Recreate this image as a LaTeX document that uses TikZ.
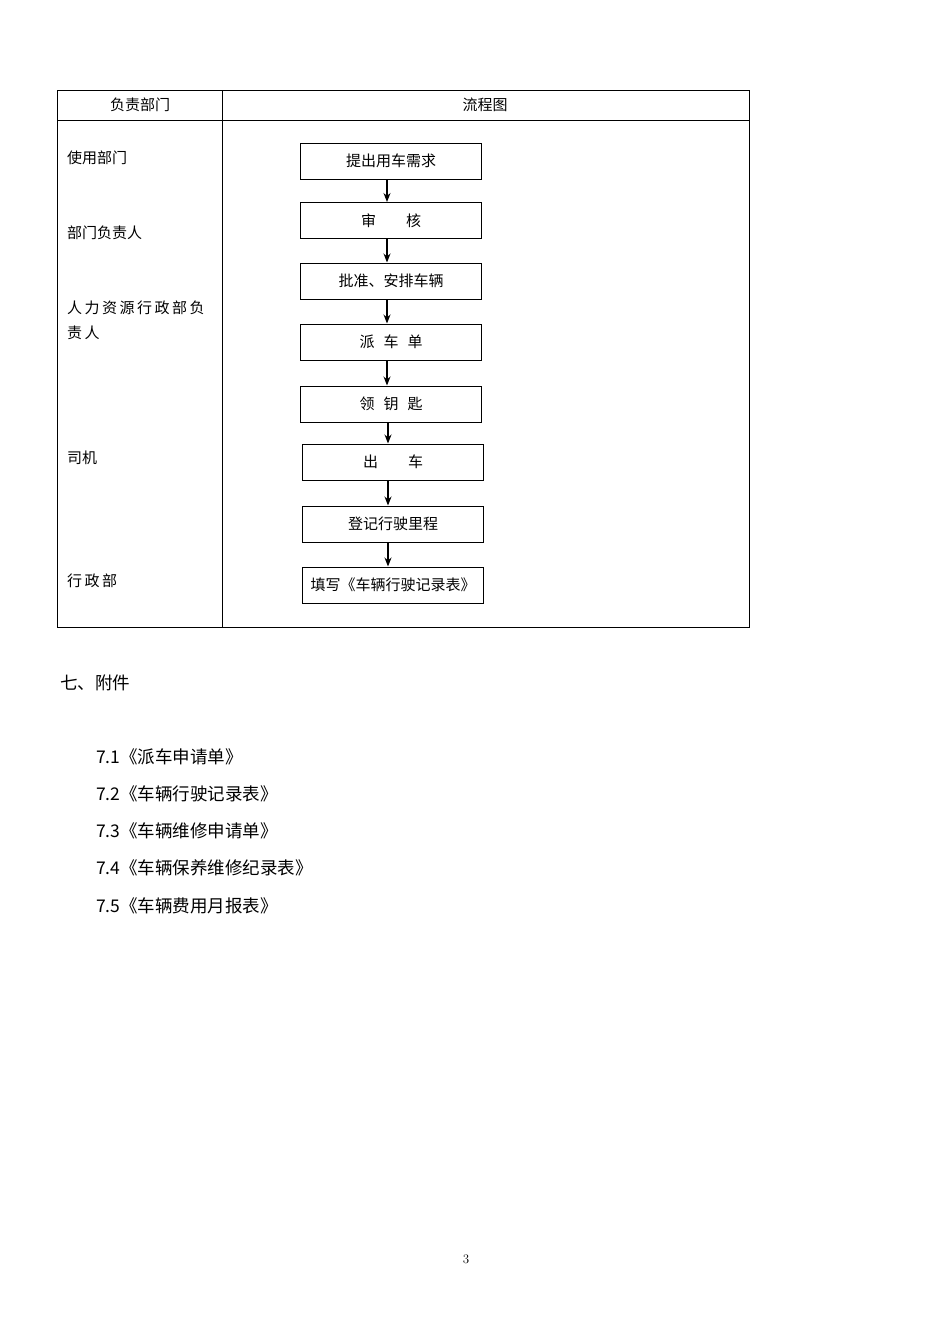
\documentclass[tikz,border=0pt]{standalone}
\usepackage{fontspec}
\newfontfamily\cjk{Noto Sans CJK SC}
\usetikzlibrary{arrows.meta}
\begin{document}
\begin{tikzpicture}[x=1pt,y=-1pt,
  every node/.style={font=\cjk\fontsize{15}{17}\selectfont,inner sep=0pt},
  fbox/.style={draw,line width=1pt,minimum width=181pt,minimum height=36pt},
  arr/.style={-{Stealth[length=9pt,width=7pt]},line width=1.2pt},
  lbl/.style={anchor=west}]
\useasboundingbox (0,0) rectangle (950,1344);
\draw[line width=0.8pt] (57,90) rectangle (749,627);
\draw[line width=0.8pt] (57,120) -- (749,120);
\draw[line width=0.8pt] (222,90) -- (222,627);
\node (h1) at (140,105) {负责部门};
\node (h2) at (485,105) {流程图};
\node[lbl] (l1) at (67,158) {使用部门};
\node[lbl] (l2) at (67,233) {部门负责人};
\node[lbl] (l3a) at (67,308) {人\,力\,资\,源\,行\,政\,部\,负};
\node[lbl] (l3b) at (67,333) {责\,人};
\node[lbl] (l4) at (67,458) {司机};
\node[lbl] (l5) at (67,581) {行\,政\,部};
\node[fbox] (b1) at (391,161) {提出用车需求};
\node[fbox] (b2) at (391,220.5) {审\hspace{2em}核};
\node[fbox] (b3) at (391,281) {批准、安排车辆};
\node[fbox] (b4) at (391,342) {派\hspace{0.6em}车\hspace{0.6em}单};
\node[fbox] (b5) at (391,404) {领\hspace{0.6em}钥\hspace{0.6em}匙};
\node[fbox] (b6) at (393,462) {出\hspace{2em}车};
\node[fbox] (b7) at (393,524) {登记行驶里程};
\node[fbox] (b8) at (393,585) {填写《车辆行驶记录表》};
\draw[arr] (b1.south -| 387,0) -- (b2.north -| 387,0);
\draw[arr] (b2.south -| 387,0) -- (b3.north -| 387,0);
\draw[arr] (b3.south -| 387,0) -- (b4.north -| 387,0);
\draw[arr] (b4.south -| 387,0) -- (b5.north -| 387,0);
\draw[arr] (b5.south -| 388,0) -- (b6.north -| 388,0);
\draw[arr] (b6.south -| 388,0) -- (b7.north -| 388,0);
\draw[arr] (b7.south -| 388,0) -- (b8.north -| 388,0);
\begin{scope}[every node/.style={font=\cjk\fontsize{17.5}{20}\selectfont,inner sep=0pt,anchor=west}]
\node (s7) at (60,683) {七、附件};
\node (a1) at (96,757) {7.1《派车申请单》};
\node (a2) at (96,794) {7.2《车辆行驶记录表》};
\node (a3) at (96,831) {7.3《车辆维修申请单》};
\node (a4) at (96,868) {7.4《车辆保养维修纪录表》};
\node (a5) at (96,906) {7.5《车辆费用月报表》};
\end{scope}
\node[font=\fontsize{13}{15}\selectfont] (pg) at (466,1259) {3};
\end{tikzpicture}
\end{document}
